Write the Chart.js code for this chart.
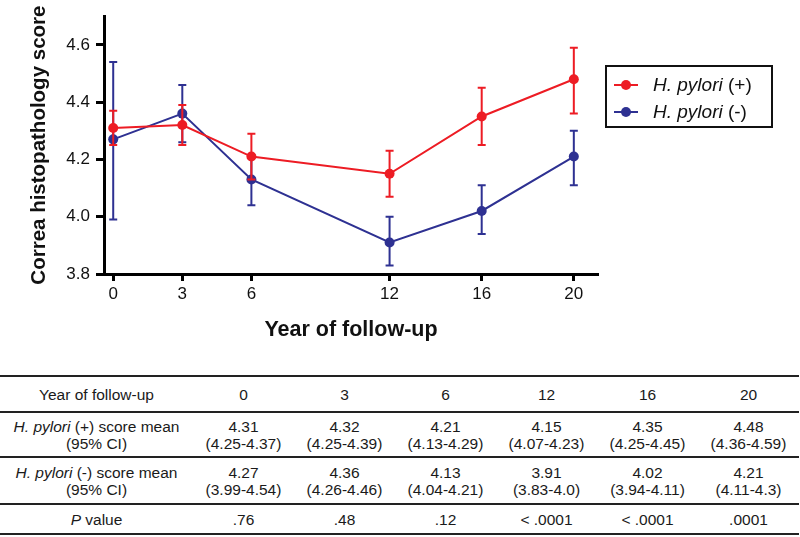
<!DOCTYPE html>
<html>
<head>
<meta charset="utf-8">
<script src="https://cdn.jsdelivr.net/npm/chart.js@4.4.1/dist/chart.umd.min.js"></script>
<style>
  html, body { margin: 0; padding: 0; background: #fff; }
  body { width: 800px; height: 537px; position: relative; overflow: hidden;
         font-family: "Liberation Sans", Arial, sans-serif; color: #111; }
  #chartWrap { position: absolute; left: 0; top: 0; width: 800px; height: 350px; }
  #legend { position: absolute; left: 605px; top: 65px; width: 164px; height: 59px;
            border: 2px solid #111; }
  #legend .item { position: absolute; left: 7px; height: 22px; font-size: 19px; line-height: 22px; white-space: nowrap; }
  #legend .swatch { display: inline-block; position: relative; width: 24px; height: 22px; vertical-align: top; margin-right: 15px; }
  #legend .swatch .ln { position: absolute; left: 0; right: 0; top: 10px; height: 2px; }
  #legend .swatch .dot { position: absolute; left: 7px; top: 6px; width: 10px; height: 10px; border-radius: 50%; }
  #dataTable { position: absolute; left: 0; top: 375px; width: 799px; border-collapse: collapse;
               table-layout: fixed; font-size: 15.5px; color: #1a1a1a; }
  #dataTable td { text-align: center; vertical-align: middle; padding: 0; line-height: 17px;
                  border-top: 2px solid #222; border-bottom: 2px solid #222; }
</style>
</head>
<body>
<div id="chartWrap"><canvas id="scoreChart"></canvas></div>
<div id="legend"></div>
<table id="dataTable"></table>

<script>
const years = [0, 3, 6, 12, 16, 20];
const posMean = [4.31, 4.32, 4.21, 4.15, 4.35, 4.48];
const posLow = [4.25, 4.25, 4.13, 4.07, 4.25, 4.36];
const posHigh = [4.37, 4.39, 4.29, 4.23, 4.45, 4.59];
const negMean = [4.27, 4.36, 4.13, 3.91, 4.02, 4.21];
const negLow = [3.99, 4.26, 4.04, 3.83, 3.94, 4.11];
const negHigh = [4.54, 4.46, 4.21, 4.0, 4.11, 4.3];
const pValues = [".76", ".48", ".12", "< .0001", "< .0001", ".0001"];
const yTicks = [3.8, 4.0, 4.2, 4.4, 4.6];
const seriesNames = ["(+)", "(-)"];

const colors = {
  pos: "#ed1c24",
  neg: "#2e3192"
};

const fontFamily = '"Liberation Sans", Arial, sans-serif';

/**
 * Error bars drawn through the chart's own scales
 */
const errorBars = {
  id: "errorBars",
  beforeDatasetDraw(chart, args) {
    const ds = chart.data.datasets[args.index];
    if (!ds.low) return;
    const ctx = chart.ctx;
    const x = chart.scales.x;
    const y = chart.scales.y;
    ctx.save();
    ctx.strokeStyle = ds.borderColor;
    ctx.lineWidth = 2;
    ds.data.forEach((pt, i) => {
      const px = x.getPixelForValue(pt.x);
      const yLo = y.getPixelForValue(ds.low[i]);
      const yHi = y.getPixelForValue(ds.high[i]);
      ctx.beginPath();
      ctx.moveTo(px, yLo);
      ctx.lineTo(px, yHi);
      ctx.moveTo(px - 4, yLo);
      ctx.lineTo(px + 4, yLo);
      ctx.moveTo(px - 4, yHi);
      ctx.lineTo(px + 4, yHi);
      ctx.stroke();
    });
    ctx.restore();
  }
};

function toPoints(values) {
  return years.map((yr, i) => ({ x: yr, y: values[i] }));
}

new Chart(document.getElementById("scoreChart"), {
  type: "line",
  data: {
    datasets: [
      {
        label: "H. pylori (+)",
        data: toPoints(posMean),
        low: posLow,
        high: posHigh,
        borderColor: colors.pos,
        backgroundColor: colors.pos,
        borderWidth: 2,
        pointRadius: 5,
        pointBorderWidth: 0,
        tension: 0
      },
      {
        label: "H. pylori (-)",
        data: toPoints(negMean),
        low: negLow,
        high: negHigh,
        borderColor: colors.neg,
        backgroundColor: colors.neg,
        borderWidth: 2,
        pointRadius: 5,
        pointBorderWidth: 0,
        tension: 0
      }
    ]
  },
  options: {
    responsive: true,
    maintainAspectRatio: false,
    animation: false,
    layout: { padding: { top: 8, right: 202, left: 0, bottom: 0 } },
    scales: {
      x: {
        type: "linear",
        min: -0.4,
        max: 21.05,
        afterBuildTicks: scale => { scale.ticks = years.map(v => ({ value: v })); },
        afterFit: scale => { scale.height = 76; },
        border: { color: "#000", width: 3 },
        grid: { drawOnChartArea: false, drawTicks: true, tickLength: 7, tickWidth: 3, tickColor: "#000" },
        ticks: { color: "#111", padding: 3, font: { family: fontFamily, size: 17 } },
        title: {
          display: true,
          text: "Year of follow-up",
          color: "#111",
          padding: { top: 0, bottom: 7 },
          font: { family: fontFamily, size: 21.5, weight: "bold" }
        }
      },
      y: {
        min: 3.8,
        max: 4.7,
        afterBuildTicks: scale => { scale.ticks = yTicks.map(v => ({ value: v })); },
        afterFit: scale => { scale.width = 104; },
        border: { color: "#000", width: 3 },
        grid: { drawOnChartArea: false, drawTicks: true, tickLength: 8, tickWidth: 3, tickColor: "#000" },
        ticks: {
          color: "#111",
          padding: 6,
          font: { family: fontFamily, size: 17 },
          callback: value => value.toFixed(1)
        },
        title: {
          display: true,
          text: "Correa histopathology score",
          color: "#111",
          padding: { top: 27, bottom: 0 },
          font: { family: fontFamily, size: 20.5, weight: "bold" }
        }
      }
    },
    plugins: {
      legend: { display: false },
      tooltip: { enabled: false }
    }
  },
  plugins: [errorBars]
});

// HTML legend (mixed italic text)
const legendEl = document.getElementById("legend");
[colors.pos, colors.neg].forEach((c, i) => {
  const item = document.createElement("div");
  item.className = "item";
  item.style.top = (i === 0 ? 7 : 34) + "px";
  item.innerHTML =
    '<span class="swatch"><span class="ln" style="background:' + c + '"></span>' +
    '<span class="dot" style="background:' + c + '"></span></span>' +
    "<i>H. pylori</i> " + seriesNames[i];
  legendEl.appendChild(item);
});

// Table below the chart
function fmt(v) {
  return v.toFixed(2).replace(/0$/, "");
}

const table = document.getElementById("dataTable");
const colgroup = document.createElement("colgroup");
colgroup.innerHTML = '<col style="width:193px">' + years.map(() => '<col style="width:101px">').join("");
table.appendChild(colgroup);

const rows = [
  { h: 36, head: "Year of follow-up", cells: years.map(String) },
  { h: 45, head: "<i>H. pylori</i> (+) score mean<br>(95% CI)",
    cells: years.map((_, i) => fmt(posMean[i]) + "<br>(" + fmt(posLow[i]) + "-" + fmt(posHigh[i]) + ")") },
  { h: 47, head: "<i>H. pylori</i> (-) score mean<br>(95% CI)",
    cells: years.map((_, i) => fmt(negMean[i]) + "<br>(" + fmt(negLow[i]) + "-" + fmt(negHigh[i]) + ")") },
  { h: 30, head: "<i>P</i> value", cells: pValues }
];

rows.forEach(r => {
  const tr = document.createElement("tr");
  tr.style.height = r.h + "px";
  tr.innerHTML = "<td>" + r.head + "</td>" + r.cells.map(c => "<td>" + c + "</td>").join("");
  table.appendChild(tr);
});
</script>
</body>
</html>
